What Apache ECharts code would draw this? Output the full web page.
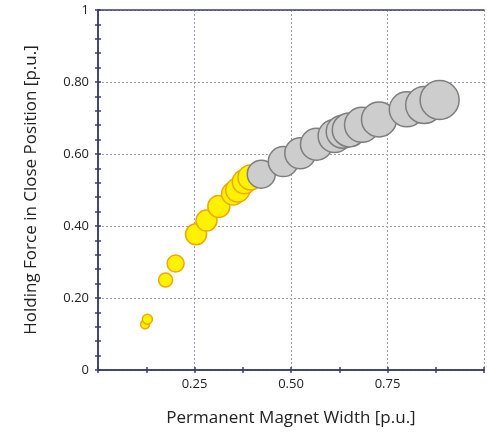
<!DOCTYPE html>
<html>
<head>
<meta charset="utf-8">
<script src="https://cdn.jsdelivr.net/npm/echarts@6/dist/echarts.min.js"></script>
</head>
<body style="margin:0;background:#fff;">
<div id="main" style="width:487px;height:433px;"></div>
<script>
// yellow group
var yellowX = [0.122, 0.128, 0.175, 0.201, 0.254, 0.281, 0.313, 0.350, 0.362, 0.379, 0.395];
var yellowY = [0.127, 0.141, 0.250, 0.296, 0.377, 0.415, 0.454, 0.490, 0.500, 0.523, 0.535];
var yellowW = [0.09, 0.10, 0.14, 0.17, 0.21, 0.21, 0.22, 0.23, 0.24, 0.24, 0.25];
// grey group
var greyX = [0.423, 0.480, 0.524, 0.566, 0.613, 0.634, 0.651, 0.684, 0.728, 0.800, 0.845, 0.885];
var greyY = [0.544, 0.579, 0.602, 0.627, 0.650, 0.662, 0.667, 0.681, 0.696, 0.724, 0.736, 0.750];
var greyW = [0.28, 0.30, 0.31, 0.32, 0.33, 0.33, 0.34, 0.35, 0.35, 0.35, 0.37, 0.39];

function pts(xs, ys, ws) {
    return xs.map(function (x, i) { return [x, ys[i], ws[i]]; });
}

var axisCol = '#3b3b73';
var font = 'Open Sans';
var chart = echarts.init(document.getElementById('main'));

var baseY = {
    type: 'value', min: 0, max: 1, interval: 0.2,
    axisLine: { show: true, lineStyle: { color: axisCol, width: 1.5 } },
    splitLine: { show: false }
};
var baseX = {
    type: 'value', min: 0, max: 1, interval: 0.25,
    axisLine: { show: true, onZero: false, lineStyle: { color: axisCol, width: 1.5 } },
    splitLine: { show: false }
};

var option = {
    animation: false,
    grid: { left: 98, top: 10, width: 392, height: 360 },
    xAxis: [
        Object.assign({}, baseX, {
            name: 'Permanent Magnet Width [p.u.]',
            nameLocation: 'middle', nameGap: 40,
            nameTextStyle: { fontFamily: font, fontSize: 17, color: '#222' },
            axisTick: { show: true, length: 3, lineStyle: { color: axisCol, width: 1.5 } },
            minorTick: { show: true, splitNumber: 2, length: 3, lineStyle: { color: axisCol, width: 1.5 } },
            axisLabel: {
                fontFamily: font, fontSize: 13, color: '#222', margin: 8,
                formatter: function (v) { return (v === 0 || v === 1) ? '' : v.toFixed(2); }
            },
            splitLine: { show: true, lineStyle: { color: '#9a9ac0', type: [2, 2] } }
        }),
        Object.assign({}, baseX, {
            position: 'bottom',
            axisTick: { show: true, inside: true, length: 3, lineStyle: { color: axisCol, width: 1.5 } },
            minorTick: { show: true, splitNumber: 2, length: 3, lineStyle: { color: axisCol, width: 1.5 } },
            axisLabel: { show: false }
        }),
        Object.assign({}, baseX, {
            position: 'top',
            axisTick: { show: false }, minorTick: { show: false },
            axisLabel: { show: false }
        })
    ],
    yAxis: [
        Object.assign({}, baseY, {
            name: 'Holding Force in Close Position [p.u.]',
            nameLocation: 'middle', nameGap: 58,
            nameTextStyle: { fontFamily: font, fontSize: 17, color: '#222' },
            axisTick: { show: true, length: 3, lineStyle: { color: axisCol, width: 1.5 } },
            minorTick: { show: true, splitNumber: 5, length: 3, lineStyle: { color: axisCol, width: 1.5 } },
            axisLabel: {
                fontFamily: font, fontSize: 13, color: '#222', margin: 9,
                formatter: function (v) { return (v === 0 || v === 1) ? String(v) : v.toFixed(2); }
            },
            splitLine: { show: true, lineStyle: { color: '#9a9ac0', type: [2, 2] } }
        }),
        Object.assign({}, baseY, {
            position: 'left',
            axisTick: { show: true, inside: true, length: 3, lineStyle: { color: axisCol, width: 1.5 } },
            minorTick: { show: true, splitNumber: 5, length: 3, lineStyle: { color: axisCol, width: 1.5 } },
            axisLabel: { show: false }
        })
    ],
    series: [
        {
            type: 'scatter',
            data: pts(yellowX, yellowY, yellowW),
            symbolSize: function (d) { return d[2] * 100; },
            itemStyle: { color: '#fff200', borderColor: '#f0a800', borderWidth: 1.5, opacity: 1 }
        },
        {
            type: 'scatter',
            data: pts(greyX, greyY, greyW),
            symbolSize: function (d) { return d[2] * 100; },
            itemStyle: { color: '#cdcdcd', borderColor: '#7e7e7e', borderWidth: 1.5, opacity: 1 }
        }
    ]
};
chart.setOption(option);
</script>
</body>
</html>
